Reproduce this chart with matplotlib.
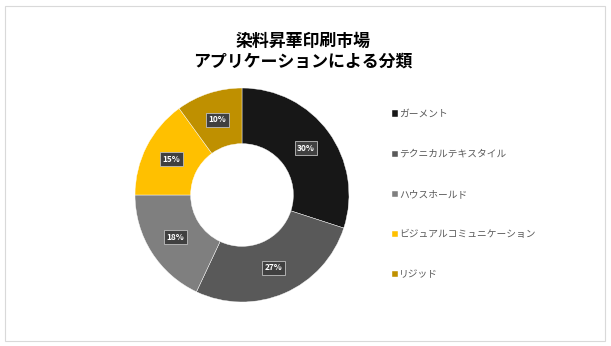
import matplotlib.pyplot as plt
from matplotlib.patches import Rectangle

plt.rcParams['font.family'] = ['Noto Sans CJK JP', 'DejaVu Sans']

categories = ["ガーメント", "テクニカルテキスタイル", "ハウスホールド", "ビジュアルコミュニケーション", "リジッド"]
shares = [30, 27, 18, 15, 10]
colors = ["#171717", "#595959", "#7f7f7f", "#ffc000", "#bf9000"]
title = "染料昇華印刷市場\nアプリケーションによる分類"

W, H = 611, 346
fig = plt.figure(figsize=(W / 100, H / 100), dpi=100)
fig.patches.append(Rectangle((5 / W, 5 / H), 600 / W, 335 / H, transform=fig.transFigure,
                             fill=False, edgecolor="#d9d9d9", linewidth=0.8))

# pie area: centre (242,195), radius 107 px
ax = fig.add_axes([135 / W, (H - 302) / H, 214 / W, 214 / H])
wedges, texts, autotexts = ax.pie(
    shares, colors=colors, startangle=90, counterclock=False,
    autopct=lambda p: f"{p:.0f}%", pctdistance=0.74,
    wedgeprops=dict(width=0.52, edgecolor="white", linewidth=0.3),
    textprops=dict(color="white", fontsize=6, fontweight="bold"))
for t in autotexts:
    t.set_bbox(dict(boxstyle="square,pad=0.3", facecolor="#404040", edgecolor="#bfbfbf", linewidth=0.6))
ax.set_xlim(-1, 1)
ax.set_ylim(-1, 1)
ax.set_aspect("equal")
ax.axis("off")

fig.text(303 / W, 1 - 51 / H, title, ha="center", va="center", fontsize=12.2,
         fontweight="bold", color="#000000", linespacing=1.2)

leg = fig.legend(wedges, categories, loc="upper left", bbox_to_anchor=(388 / W, 1 - 105 / H),
                 frameon=False, fontsize=7.0, handlelength=0.6, handleheight=0.6,
                 handletextpad=0.15, labelspacing=3.1, borderaxespad=0)
for t in leg.get_texts():
    t.set_color("#595959")

fig.savefig("out.png", dpi=100)
